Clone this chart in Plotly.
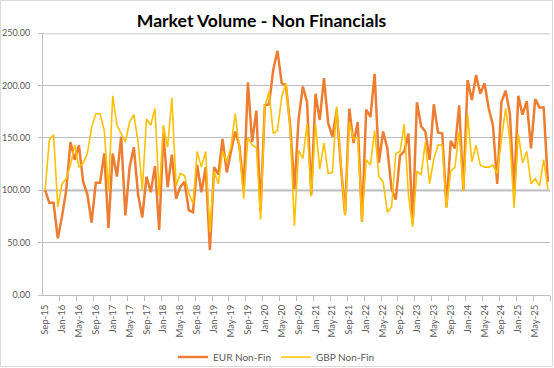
import pandas as pd
import plotly.graph_objects as go

# Monthly categories Sep-15 .. Aug-25
months = list(pd.date_range("2015-09-01", periods=120, freq="MS").strftime("%b-%y"))
month_idx = list(range(len(months)))
tick_idx = month_idx[::4]
tick_labels = months[::4]

eur_non_fin = [
    100, 88, 88, 54, 75, 100, 146, 129, 143, 108, 96, 69, 107, 107, 135, 64, 135, 113, 151, 76,
    122, 141, 96, 74, 113, 98, 123, 62, 154, 103, 134, 92, 103, 108, 81, 79, 124, 98, 122, 43,
    122, 115, 149, 117, 137, 156, 142, 101, 203, 146, 176, 80, 181, 182, 215, 233, 202, 200, 162, 101,
    168, 199, 184, 96, 192, 167, 207, 164, 151, 176, 124, 77, 178, 145, 165, 70, 177, 170, 211, 126,
    156, 140, 101, 91, 133, 137, 154, 68, 184, 161, 156, 129, 182, 155, 154, 84, 147, 140, 181, 100,
    205, 186, 210, 192, 202, 178, 162, 106, 184, 195, 173, 100, 190, 172, 185, 140, 187, 179, 179, 108,
]
gbp_non_fin = [
    100, 148, 153, 84, 106, 111, 124, 143, 122, 126, 135, 160, 173, 173, 157, 99, 190, 162, 154, 146,
    165, 172, 146, 100, 168, 162, 178, 95, 162, 141, 188, 104, 116, 114, 97, 87, 137, 122, 137, 60,
    118, 106, 137, 127, 142, 173, 139, 92, 150, 143, 141, 72, 180, 194, 154, 157, 189, 202, 158, 66,
    138, 130, 163, 94, 163, 120, 145, 116, 117, 180, 125, 76, 165, 149, 150, 70, 129, 124, 157, 113,
    108, 79, 84, 135, 137, 163, 95, 65, 118, 115, 146, 106, 130, 143, 143, 83, 118, 122, 156, 99,
    172, 127, 143, 124, 122, 122, 124, 116, 148, 178, 148, 83, 154, 126, 137, 106, 111, 104, 129, 101,
]

FONT = "Lato"
W, H = 554, 368
ML, MR, MT, MB = 43, 4, 33, 73
pw, ph = W - ML - MR, H - MT - MB

fig = go.Figure()
fig.add_trace(go.Scatter(x=month_idx, y=eur_non_fin, mode="lines", name="EUR Non-Fin",
                         line=dict(color="#ED7D31", width=2.5)))
fig.add_trace(go.Scatter(x=month_idx, y=gbp_non_fin, mode="lines", name="GBP Non-Fin",
                         line=dict(color="#FFC000", width=1.6)))

# highlighted reference lines (light, thick)
for yv in (100, 250):
    fig.add_shape(type="line", xref="paper", yref="y", x0=0, x1=1, y0=yv, y1=yv,
                  line=dict(color="#D9D9D9", width=3), layer="below")

# chart border
fig.add_shape(type="rect", xref="paper", yref="paper",
              x0=-(ML - 0.5) / pw, x1=1 + (MR - 1.5) / pw,
              y0=-(MB - 1.5) / ph, y1=1 + (MT - 0.5) / ph,
              line=dict(color="#D9D9D9", width=1), fillcolor="rgba(0,0,0,0)")

fig.update_layout(
    width=W, height=H,
    margin=dict(l=ML, r=MR, t=MT, b=MB, autoexpand=False),
    paper_bgcolor="white", plot_bgcolor="white",
    font=dict(family=FONT, size=10, color="#595959"),
    title=dict(text="<b>Market Volume - Non Financials</b>", x=261.5 / W, xref="container",
               xanchor="center", y=1 - 21 / H, yanchor="middle",
               font=dict(family=FONT, size=17.6, color="#000000")),
    showlegend=True,
    legend=dict(orientation="h", x=(173 - ML) / pw, xanchor="left", y=-(357 - MT - ph) / ph,
                yanchor="middle", font=dict(family=FONT, size=10, color="#595959"),
                itemwidth=30, bgcolor="rgba(0,0,0,0)"),
)

fig.update_xaxes(
    tickmode="array", tickvals=tick_idx, ticktext=tick_labels,
    ticks="outside", ticklen=5, tickcolor="rgba(0,0,0,0)",
    minor=dict(tickmode="array", tickvals=[i - 0.5 for i in tick_idx[1:]] + [len(months) - 0.5],
               ticks="outside", ticklen=5, tickcolor="#BFBFBF", showgrid=False),
    tickangle=-90, showgrid=False, showline=True, linecolor="#BFBFBF", linewidth=1,
    range=[-0.5, len(months) - 0.5], tickfont=dict(family=FONT, size=9.5, color="#595959"),
    zeroline=False, automargin=False,
)
fig.update_yaxes(
    range=[0, 250], dtick=50, tick0=0, tickformat=".2f",
    showgrid=True, gridcolor="#BFBFBF", gridwidth=1,
    showline=True, linecolor="#BFBFBF", linewidth=1,
    ticks="outside", ticklen=4, tickcolor="#BFBFBF", ticklabelstandoff=6,
    tickfont=dict(family=FONT, size=9, color="#595959"), zeroline=False, automargin=False,
)

fig.write_html("out.html", config={"displayModeBar": False},
               post_script="document.body.style.margin='0';")
